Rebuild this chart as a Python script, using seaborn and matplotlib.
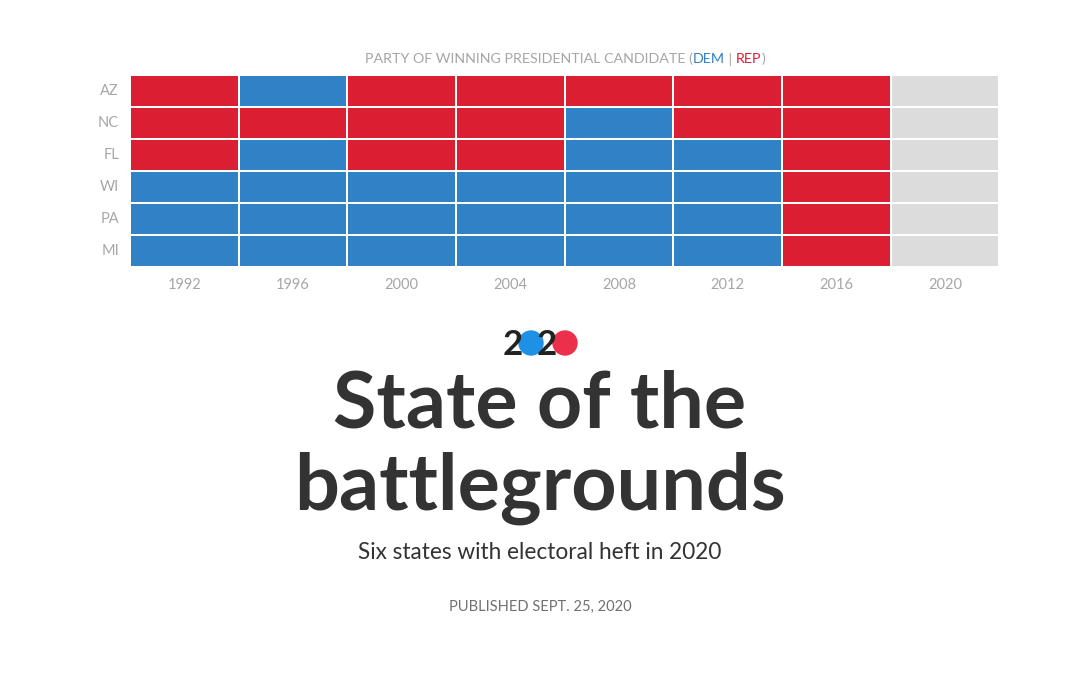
import numpy as np
import pandas as pd
import seaborn as sns
import matplotlib.pyplot as plt
from matplotlib.colors import ListedColormap
from matplotlib.patches import Circle

# winning party per state per election (D / R, '' = not yet decided)
states = ["AZ", "NC", "FL", "WI", "PA", "MI"]
years = ["1992", "1996", "2000", "2004", "2008", "2012", "2016", "2020"]
az = ["R", "D", "R", "R", "R", "R", "R", ""]
nc = ["R", "R", "R", "R", "D", "R", "R", ""]
fl = ["R", "D", "R", "R", "D", "D", "R", ""]
wi = ["D", "D", "D", "D", "D", "D", "R", ""]
pa = ["D", "D", "D", "D", "D", "D", "R", ""]
mi = ["D", "D", "D", "D", "D", "D", "R", ""]

DEM = "#3181c6"
REP = "#dc1e32"
NONE = "#dcdcdc"
code = {"D": 0, "R": 1, "": 2}

grid = pd.DataFrame([[code[v] for v in row] for row in [az, nc, fl, wi, pa, mi]],
                    index=states, columns=years)

sns.set_theme(style="white")
plt.rcParams['font.family'] = ['Lato', 'DejaVu Sans']

fig = plt.figure(figsize=(10.8, 6.75), dpi=100)
ax = fig.add_axes([0.1204, 0.604, 0.805, 0.285])
sns.heatmap(grid, ax=ax, cmap=ListedColormap([DEM, REP, NONE]), vmin=-0.5, vmax=2.5,
            cbar=False, linewidths=1.2, linecolor="white")
ax.tick_params(axis="both", length=0, labelsize=10.5, colors="#a6a6a6", pad=8)
ax.set_yticklabels(states, rotation=0)
ax.set_xticklabels(years, rotation=0)
ax.set_xlabel("")
ax.set_ylabel("")

# header with coloured party words
hy = 1 - 59 / 675
parts = [("PARTY OF WINNING PRESIDENTIAL CANDIDATE (", "#a6a6a6"), ("DEM", DEM),
         (" | ", "#a6a6a6"), ("REP", REP), (")", "#a6a6a6")]
fig.canvas.draw()
r = fig.canvas.get_renderer()
texts = []
for s, c in parts:
    texts.append(fig.text(0, hy, s, color=c, fontsize=10.3, va="center", ha="left"))
widths = [t.get_window_extent(r).width for t in texts]
x = (565 - sum(widths) / 2) / 1080
for t, w in zip(texts, widths):
    t.set_x(x)
    x += w / 1080

# 2020 logo
lax = fig.add_axes([0, 0, 1, 1], zorder=5)
lax.set_xlim(0, 1080)
lax.set_ylim(675, 0)
lax.axis("off")
lax.add_patch(Circle((531, 343), 12, color="#1e90e6", zorder=1))
lax.add_patch(Circle((565, 343), 12, color="#ec2f4b", zorder=1))
lax.text(513, 355, "2", fontsize=25, fontweight="bold", color="#222222", ha="center", va="baseline", zorder=2)
lax.text(547, 355, "2", fontsize=25, fontweight="bold", color="#222222", ha="center", va="baseline", zorder=2)

# titles
lax.text(540, 428, "State of the", fontsize=57, fontweight="bold", color="#333333",
         ha="center", va="baseline")
lax.text(540, 510, "battlegrounds", fontsize=57, fontweight="bold", color="#333333",
         ha="center", va="baseline")
lax.text(540, 559, "Six states with electoral heft in 2020", fontsize=16.3, color="#333333",
         ha="center", va="baseline")
lax.text(540, 611, "PUBLISHED SEPT. 25, 2020", fontsize=10.5, color="#707070",
         ha="center", va="baseline")

fig.savefig("out.png", dpi=100, facecolor="white")
